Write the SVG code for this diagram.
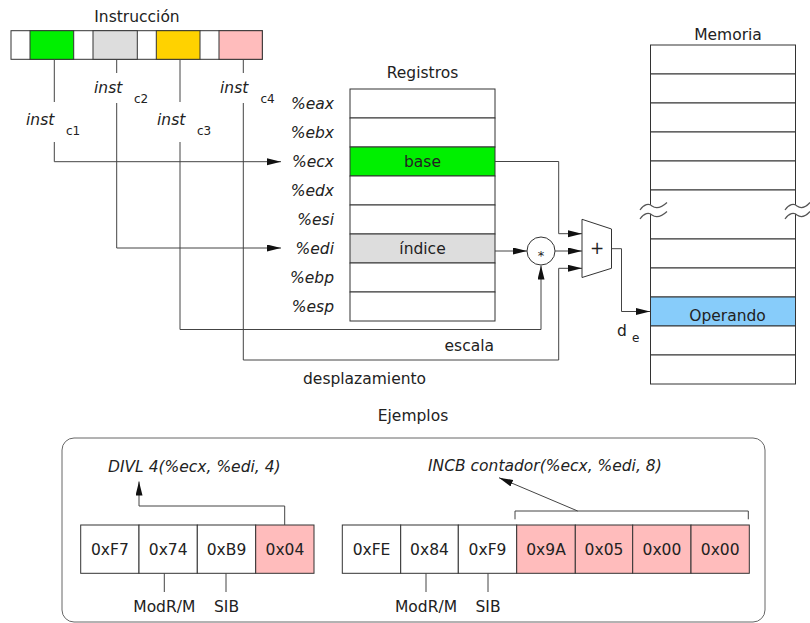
<svg xmlns="http://www.w3.org/2000/svg" width="810" height="623" viewBox="0 0 810 623">
<defs>
<style>
text{font-family:"DejaVu Sans","Liberation Sans",sans-serif;font-size:15.5px;fill:#222;}
.it{font-style:italic;}
.sub{font-size:12px;}
.mid{text-anchor:middle;}
.end{text-anchor:end;}
.box{stroke:#333;stroke-width:1;}
.cn{fill:none;stroke:#444;stroke-width:1;}
.wv{fill:none;stroke:#555;stroke-width:1.2;}
</style>
<marker id="ar" markerUnits="userSpaceOnUse" markerWidth="15" markerHeight="8" refX="14" refY="3.5" orient="auto">
<path d="M0,0 L14,3.5 L0,7 z" fill="#111"/>
</marker>
</defs>
<rect width="810" height="623" fill="#fff"/>

<g id="instruccion">
<text class="mid" x="137" y="21.5">Instrucción</text>
<rect class="box" x="11" y="30.7" width="251.3" height="28.6" fill="#fff"/>
<rect class="box" x="30" y="30.7" width="43.7" height="28.6" fill="#00f000"/>
<rect class="box" x="93" y="30.7" width="44.3" height="28.6" fill="#dddddd"/>
<rect class="box" x="156.3" y="30.7" width="43.7" height="28.6" fill="#ffd200"/>
<rect class="box" x="219" y="30.7" width="43.3" height="28.6" fill="#ffbcbc"/>
</g>

<g id="labels-inst">
<text class="it" x="26" y="125">inst</text><text class="sub" x="66" y="135">c1</text>
<text class="it" x="94" y="93">inst</text><text class="sub" x="134" y="103">c2</text>
<text class="it" x="157" y="125">inst</text><text class="sub" x="197" y="135">c3</text>
<text class="it" x="220" y="93">inst</text><text class="sub" x="260.5" y="103">c4</text>
</g>

<g id="registros">
<text class="mid" x="422.5" y="78">Registros</text>
<rect class="box" x="350" y="89" width="145" height="29" fill="#fff"/>
<rect class="box" x="350" y="118" width="145" height="29" fill="#fff"/>
<rect class="box" x="350" y="147" width="145" height="29" fill="#00f000"/>
<rect class="box" x="350" y="176" width="145" height="29" fill="#fff"/>
<rect class="box" x="350" y="205" width="145" height="29" fill="#fff"/>
<rect class="box" x="350" y="234" width="145" height="29" fill="#dddddd"/>
<rect class="box" x="350" y="263" width="145" height="29" fill="#fff"/>
<rect class="box" x="350" y="292" width="145" height="29" fill="#fff"/>
<text class="mid" x="422.5" y="166.5">base</text>
<text class="mid" x="422.5" y="254">índice</text>
<text class="it end" x="334" y="108.5">%eax</text>
<text class="it end" x="334" y="137.5">%ebx</text>
<text class="it end" x="334" y="166.5">%ecx</text>
<text class="it end" x="334" y="195.5">%edx</text>
<text class="it end" x="334" y="224.5">%esi</text>
<text class="it end" x="334" y="253.5">%edi</text>
<text class="it end" x="334" y="282.5">%ebp</text>
<text class="it end" x="334" y="311.5">%esp</text>
</g>

<g id="multiplicador">
<circle class="box" cx="541" cy="251" r="14" fill="#fff"/>
<text class="mid" x="541" y="260" style="font-size:13px">*</text>
</g>

<g id="sumador">
<path class="box" d="M582,219.3 L611.5,229 L611.5,268.3 L582,277.5 Z" fill="#fff"/>
<text class="mid" x="597" y="254" style="font-size:17px">+</text>
</g>

<g id="memoria">
<text class="mid" x="728" y="40">Memoria</text>
<rect class="box" x="650.5" y="45" width="145" height="29" fill="#fff"/>
<rect class="box" x="650.5" y="74" width="145" height="29" fill="#fff"/>
<rect class="box" x="650.5" y="103" width="145" height="29" fill="#fff"/>
<rect class="box" x="650.5" y="132" width="145" height="29" fill="#fff"/>
<rect class="box" x="650.5" y="161" width="145" height="29" fill="#fff"/>
<rect class="box" x="650.5" y="190" width="145" height="49" fill="#fff"/>
<rect class="box" x="650.5" y="239" width="145" height="29" fill="#fff"/>
<rect class="box" x="650.5" y="268" width="145" height="29" fill="#fff"/>
<rect class="box" x="650.5" y="297" width="145" height="29" fill="#87ccfa"/>
<rect class="box" x="650.5" y="326" width="145" height="29" fill="#fff"/>
<rect class="box" x="650.5" y="355" width="145" height="29" fill="#fff"/>
<text class="mid" x="727.5" y="320.5">Operando</text>
<g id="corte-izq">
<path d="M640,210 C644,204 649,203 652,206 C656,209 661,208 667,202.5 L667,211.5 C661,217 656,218 652,215 C649,212 644,213 640,219 Z" fill="#fff"/>
<path class="wv" d="M640,210 C644,204 649,203 652,206 C656,209 661,208 667,202.5"/>
<path class="wv" d="M640,219 C644,213 649,212 652,215 C656,218 661,217 667,211.5"/>
</g>
<g id="corte-der">
<path d="M785,210 C789,204 794,203 797,206 C801,209 805,208 810,202.5 L810,211.5 C805,217 801,218 797,215 C794,212 789,213 785,219 Z" fill="#fff"/>
<path class="wv" d="M785,210 C789,204 794,203 797,206 C801,209 805,208 810,202.5"/>
<path class="wv" d="M785,219 C789,213 794,212 797,215 C801,218 805,217 810,211.5"/>
</g>
</g>

<g id="etiquetas">
<text class="end" x="494" y="351">escala</text>
<text x="303" y="384">desplazamiento</text>
<text x="617" y="336">d</text>
<text class="sub" x="632" y="342">e</text>
</g>

<g id="conectores">
<path class="cn" d="M54.3,59.3 V102"/>
<path class="cn" d="M54.3,142 V161.7 H281" marker-end="url(#ar)"/>
<path class="cn" d="M116.7,59.3 V73"/>
<path class="cn" d="M116.7,103 V248 H281" marker-end="url(#ar)"/>
<path class="cn" d="M180,59.3 V102"/>
<path class="cn" d="M180,142 V329.5 H541 V265.5" marker-end="url(#ar)"/>
<path class="cn" d="M243.3,59.3 V73"/>
<path class="cn" d="M243.3,103 V360 H558.7 V268.3 H582" marker-end="url(#ar)"/>
<path class="cn" d="M495,161.5 H558.7 V233.7 H582" marker-end="url(#ar)"/>
<path class="cn" d="M495,251 H527" marker-end="url(#ar)"/>
<path class="cn" d="M555,251 H582" marker-end="url(#ar)"/>
<path class="cn" d="M611.5,248.7 H621.5 V311.5 H650" marker-end="url(#ar)"/>
</g>

<g id="ejemplos">
<rect x="62" y="438" width="703" height="184" rx="12" ry="12" fill="none" stroke="#666" stroke-width="1"/>
<text class="mid" x="413" y="421">Ejemplos</text>
</g>

<g id="ejemplo1">
<text class="it" x="108" y="471.5">DIVL 4(%ecx, %edi, 4)</text>
<rect class="box" x="80.7" y="525" width="58.3" height="48.3" fill="#fff"/>
<rect class="box" x="139" y="525" width="58.3" height="48.3" fill="#fff"/>
<rect class="box" x="197.3" y="525" width="58.4" height="48.3" fill="#fff"/>
<rect class="box" x="255.7" y="525" width="58.3" height="48.3" fill="#ffbcbc"/>
<text class="mid" x="109.9" y="554.5">0xF7</text>
<text class="mid" x="168.2" y="554.5">0x74</text>
<text class="mid" x="226.5" y="554.5">0xB9</text>
<text class="mid" x="284.9" y="554.5">0x04</text>
<path class="cn" d="M164.3,573.3 V592 M226,573.3 V592"/>
<text class="mid" x="164.3" y="612">ModR/M</text>
<text class="mid" x="226.5" y="612">SIB</text>
<path class="cn" d="M284.7,525 V506 H139 V481.5" marker-end="url(#ar)"/>
</g>

<g id="ejemplo2">
<text class="it" x="428" y="471">INCB contador(%ecx, %edi, 8)</text>
<rect class="box" x="342.3" y="525" width="58.4" height="48.3" fill="#fff"/>
<rect class="box" x="400.7" y="525" width="57.6" height="48.3" fill="#fff"/>
<rect class="box" x="458.3" y="525" width="58.4" height="48.3" fill="#fff"/>
<rect class="box" x="516.7" y="525" width="58.6" height="48.3" fill="#ffbcbc"/>
<rect class="box" x="575.3" y="525" width="57.4" height="48.3" fill="#ffbcbc"/>
<rect class="box" x="632.7" y="525" width="58.3" height="48.3" fill="#ffbcbc"/>
<rect class="box" x="691" y="525" width="58.3" height="48.3" fill="#ffbcbc"/>
<text class="mid" x="371.5" y="554.5">0xFE</text>
<text class="mid" x="429.5" y="554.5">0x84</text>
<text class="mid" x="487.5" y="554.5">0xF9</text>
<text class="mid" x="546" y="554.5">0x9A</text>
<text class="mid" x="604" y="554.5">0x05</text>
<text class="mid" x="661.9" y="554.5">0x00</text>
<text class="mid" x="720.2" y="554.5">0x00</text>
<path class="cn" d="M426,573.3 V592 M488,573.3 V592"/>
<text class="mid" x="426" y="612">ModR/M</text>
<text class="mid" x="488" y="612">SIB</text>
<path class="cn" d="M515,519.3 V511 H748.3 V519.3"/>
<path class="cn" d="M577.7,511 L499,477.7" marker-end="url(#ar)"/>
</g>
</svg>
